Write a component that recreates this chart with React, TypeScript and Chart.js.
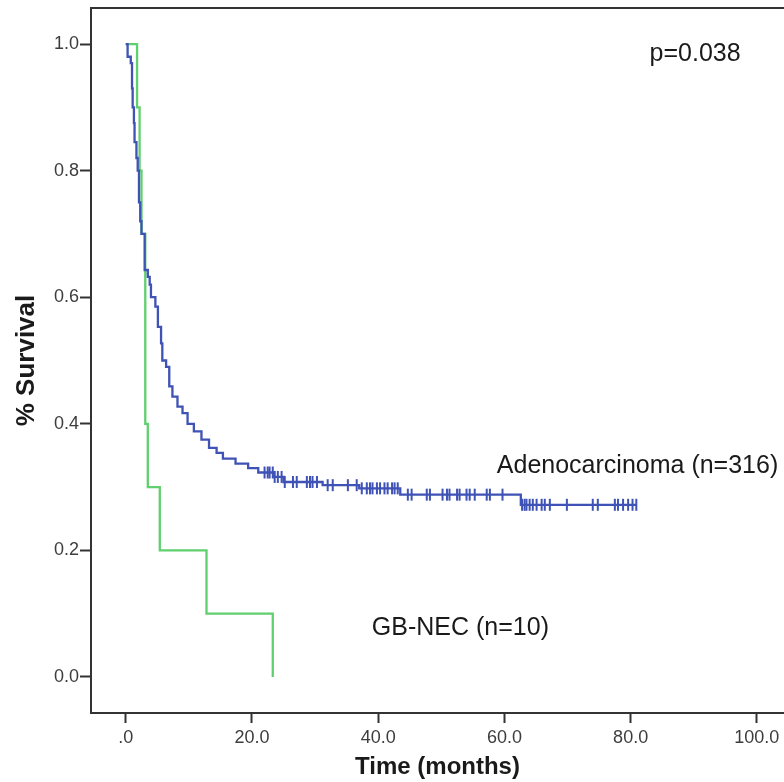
import React, { useEffect, useRef } from 'react';
import { Chart, registerables } from 'chart.js';

Chart.register(...registerables);

// ---- data ----
const xTickValues = [0, 20, 40, 60, 80, 100];
const yTickValues = [0, 0.2, 0.4, 0.6, 0.8, 1.0];

// Adenocarcinoma (n=316): event times (months) and survival after each step
const adenoTimes = [0, 0.3, 0.8, 1.0, 1.1, 1.3, 1.4, 1.7, 1.9, 2.1, 2.3, 2.5, 3.0, 3.5, 3.8, 4.0, 4.7, 5.1, 5.6, 5.8, 6.4, 6.9, 7.4, 8.2, 9.0, 9.8, 10.8, 12.0, 13.2, 14.4, 15.4, 17.4, 19.4, 21.0, 23.5, 25.0, 31.2, 37.0, 43.5, 62.6];
const adenoSurv = [1.0, 0.98, 0.97, 0.93, 0.9, 0.875, 0.845, 0.82, 0.8, 0.75, 0.72, 0.7, 0.643, 0.632, 0.62, 0.6, 0.585, 0.553, 0.527, 0.5, 0.49, 0.459, 0.443, 0.427, 0.417, 0.4, 0.388, 0.375, 0.362, 0.354, 0.345, 0.337, 0.33, 0.323, 0.316, 0.308, 0.303, 0.298, 0.288, 0.272];
const adenoLastFollowUp = 80.9;
const adenoCensored = [22.0, 22.5, 22.8, 23.3, 23.6, 24.1, 24.7, 25.2, 26.5, 27.1, 28.7, 29.2, 29.6, 30.3, 32.0, 32.8, 35.2, 36.6, 37.4, 38.2, 38.7, 39.1, 39.8, 40.3, 41.0, 41.5, 42.2, 42.6, 43.1, 44.7, 45.3, 47.7, 48.2, 50.2, 50.9, 51.3, 52.5, 52.9, 54.0, 54.5, 55.3, 57.2, 57.7, 59.7, 62.8, 63.2, 63.5, 64.0, 64.5, 65.1, 65.9, 66.4, 67.2, 69.9, 74.0, 74.8, 77.5, 78.0, 78.8, 79.6, 80.3, 80.9];

// GB-NEC (n=10)
const necTimes = [0, 1.8, 2.2, 2.5, 3.1, 3.5, 5.4, 12.8, 23.3];
const necSurv = [1.0, 0.9, 0.8, 0.7, 0.4, 0.3, 0.2, 0.1, 0.0];

const labels = ['Adenocarcinoma (n=316)', 'GB-NEC (n=10)', 'p=0.038'];

const BLUE = '#3f52b5';
const GREEN = '#5fd06d';
const FONT = '"Liberation Sans", Arial, sans-serif';

function survivalAt(times: number[], surv: number[], t: number) {
  let s = surv[0];
  for (let i = 0; i < times.length; i++) {
    if (times[i] <= t) s = surv[i];
  }
  return s;
}

const framePlugin = {
  id: 'frameAndText',
  afterDraw(chart: any) {
    const { ctx, chartArea, scales } = chart;
    ctx.save();
    ctx.strokeStyle = '#333';
    ctx.lineWidth = 2;
    ctx.beginPath();
    ctx.moveTo(chartArea.left, chartArea.top);
    ctx.lineTo(chart.width, chartArea.top);
    ctx.stroke();

    const xs = scales.x;
    const ys = scales.y;
    const notes = [
      { text: labels[2], x: 83.0, y: 0.984 },
      { text: labels[0], x: 58.8, y: 0.333 },
      { text: labels[1], x: 39.0, y: 0.077 },
    ];
    ctx.fillStyle = '#1a1a1a';
    ctx.font = `25px ${FONT}`;
    ctx.textAlign = 'left';
    ctx.textBaseline = 'middle';
    for (const n of notes) {
      ctx.fillText(n.text, xs.getPixelForValue(n.x), ys.getPixelForValue(n.y));
    }
    ctx.restore();
  },
};

export default function App() {
  const ref = useRef<HTMLCanvasElement | null>(null);

  useEffect(() => {
    if (!ref.current) return;
    const adenoData = adenoTimes.map((t, i) => ({ x: t, y: adenoSurv[i] }));
    adenoData.push({ x: adenoLastFollowUp, y: adenoSurv[adenoSurv.length - 1] });
    const necData = necTimes.map((t, i) => ({ x: t, y: necSurv[i] }));
    const censorData = adenoCensored.map((t) => ({ x: t, y: survivalAt(adenoTimes, adenoSurv, t) }));

    const chart = new Chart(ref.current, {
      type: 'line',
      data: {
        datasets: [
          {
            label: 'Adenocarcinoma',
            data: adenoData,
            stepped: 'before',
            borderColor: BLUE,
            borderWidth: 2.3,
            pointRadius: 0,
            fill: false,
          },
          {
            label: 'Censored',
            data: censorData,
            showLine: false,
            pointStyle: 'line',
            rotation: 90,
            pointRadius: 6,
            borderColor: BLUE,
            pointBorderWidth: 2,
            pointBorderColor: BLUE,
            backgroundColor: BLUE,
          },
          {
            label: 'GB-NEC',
            data: necData,
            stepped: 'before',
            borderColor: GREEN,
            borderWidth: 2.3,
            pointRadius: 0,
            fill: false,
          },
        ],
      },
      options: {
        responsive: false,
        animation: false,
        layout: { autoPadding: false, padding: { top: 8, right: 0, left: 0, bottom: 0 } },
        plugins: {
          legend: { display: false },
          tooltip: { enabled: false },
        },
        scales: {
          x: {
            type: 'linear',
            min: -5.5,
            max: 104.3,
            afterFit: (s: any) => {
              s.height = 69;
              s.paddingLeft = 0;
              s.paddingRight = 0;
            },
            afterBuildTicks: (s: any) => { s.ticks = xTickValues.map((v) => ({ value: v })); },
            ticks: {
              callback: (v: any) => (Number(v) === 0 ? '.0' : Number(v).toFixed(1)),
              font: { family: FONT, size: 18 },
              color: '#3d3d3d',
              padding: 4,
              maxRotation: 0,
            },
            grid: { drawOnChartArea: false, drawTicks: true, tickLength: 10, color: '#333', tickWidth: 2 },
            border: { display: true, color: '#333', width: 2 },
            title: {
              display: true,
              text: 'Time (months)',
              font: { family: FONT, size: 24, weight: 'bold' },
              color: '#1a1a1a',
              padding: { top: 0, bottom: 0 },
            },
          },
          y: {
            type: 'linear',
            min: -0.057,
            max: 1.057,
            afterFit: (s: any) => {
              s.width = 91;
              s.paddingTop = 0;
              s.paddingBottom = 0;
            },
            afterBuildTicks: (s: any) => { s.ticks = yTickValues.map((v) => ({ value: v })); },
            ticks: {
              callback: (v: any) => Number(v).toFixed(1),
              font: { family: FONT, size: 18 },
              color: '#3d3d3d',
              padding: 1,
            },
            grid: { drawOnChartArea: false, drawTicks: true, tickLength: 11, color: '#333', tickWidth: 2 },
            border: { display: true, color: '#333', width: 2 },
            title: {
              display: true,
              text: '% Survival',
              font: { family: FONT, size: 26, weight: 'bold' },
              color: '#1a1a1a',
              padding: { top: 11, bottom: 0 },
            },
          },
        },
      },
      plugins: [framePlugin],
    });
    return () => chart.destroy();
  }, []);

  return (
    <div style={{ position: 'absolute', left: 0, top: 0, width: 784, height: 782, background: '#fff' }}>
      <canvas ref={ref} width={784} height={782} style={{ width: 784, height: 782, display: 'block' }} />
    </div>
  );
}
